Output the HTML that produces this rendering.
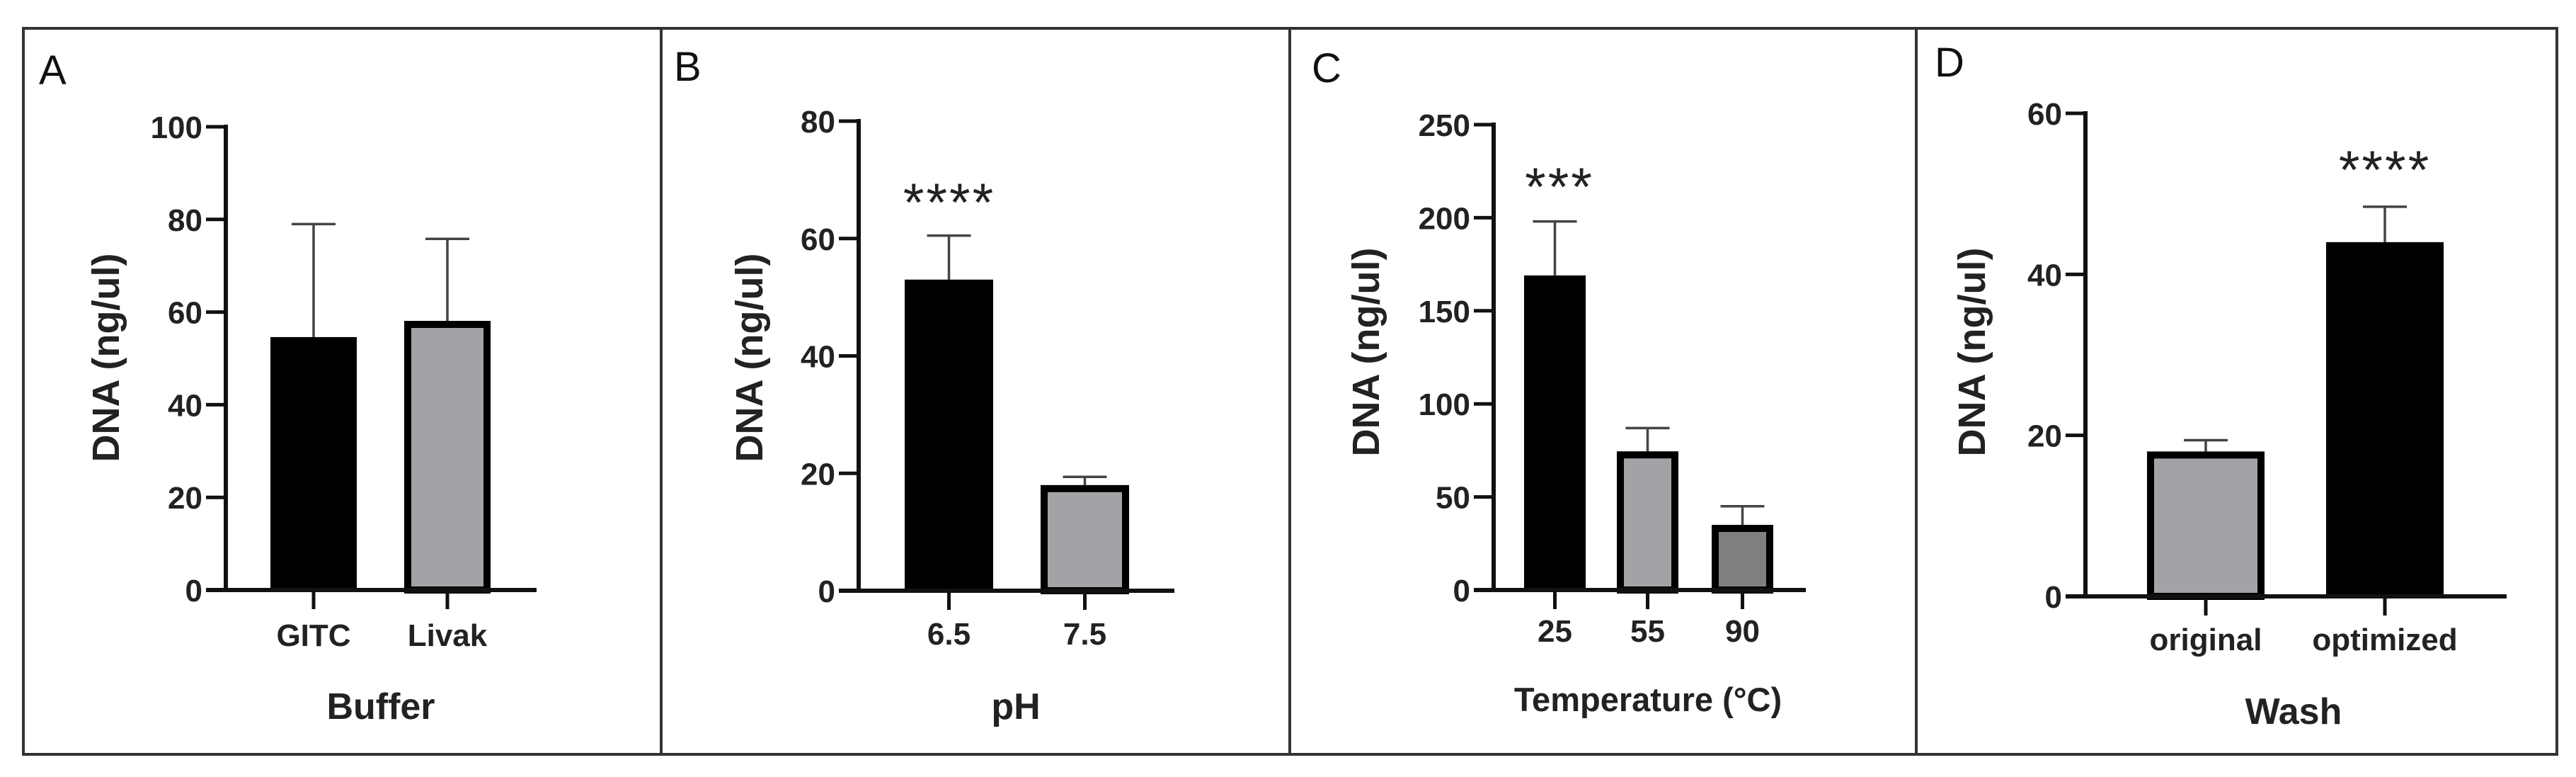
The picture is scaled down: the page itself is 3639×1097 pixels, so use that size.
<!DOCTYPE html>
<html><head><meta charset="utf-8"><style>
html,body{margin:0;padding:0;background:#fff;}
svg{display:block;font-family:"Liberation Sans",Arial,sans-serif;}
</style></head><body>
<svg id="fig" width="3639" height="1097" viewBox="0 0 3639 1097" xmlns="http://www.w3.org/2000/svg">
<rect x="0" y="0" width="3639" height="1097" fill="#fff"/>
<g fill="none" stroke="#333" stroke-width="4">
<rect x="33" y="40" width="3579" height="1025"/>
<line x1="934" y1="40" x2="934" y2="1065"/>
<line x1="1822" y1="40" x2="1822" y2="1065"/>
<line x1="2707" y1="40" x2="2707" y2="1065"/>
</g>
</svg>
<script>
// Panel A
const catsA = ["GITC","Livak"];
const valsA = [54.6, 58.1];
const errA = [79, 75.8];
const ticksA = [0,20,40,60,80,100];
// Panel B
const catsB = ["6.5","7.5"];
const valsB = [53, 18];
const errB = [60.5, 19.4];
const ticksB = [0,20,40,60,80];
// Panel C
const catsC = ["25","55","90"];
const valsC = [169, 74.5, 35];
const errC = [198, 87, 45];
const ticksC = [0,50,100,150,200,250];
// Panel D
const catsD = ["original","optimized"];
const valsD = [18, 44];
const errD = [19.4, 48.4];
const ticksD = [0,20,40,60];

const NS="http://www.w3.org/2000/svg";
const svg=document.getElementById('fig');
function mk(tag,attrs,parent){const e=document.createElementNS(NS,tag);for(const k in attrs)e.setAttribute(k,attrs[k]);(parent||svg).appendChild(e);return e;}

function panel(cfg){
  const g=mk('g',{});
  
  
  const ymax=cfg.ticks[cfg.ticks.length-1];
  const y=v=>cfg.y0-(v/ymax)*(cfg.y0-cfg.yTop);
  const L=mk('text',{x:cfg.letterX,y:cfg.letterY,'font-size':58,fill:'#111'},g);
  L.textContent=cfg.letter;
  
  
  cfg.cats.forEach((c,i)=>{
    const x0=cfg.barX[i], w=cfg.barW;
    const cx=x0+w/2;
    const el=mk('line',{x1:cx,x2:cx,y1:y(cfg.vals[i]),y2:y(cfg.err[i]),stroke:'#444','stroke-width':3.5},g);
    
    
    const cap=mk('line',{x1:cx-31,x2:cx+31,y1:y(cfg.err[i]),y2:y(cfg.err[i]),stroke:'#444','stroke-width':3.5},g);
    
    
    const fill=cfg.fills[i];
    let r;
    if(fill==='#000'){
      r=mk('rect',{x:x0,y:y(cfg.vals[i]),width:w,height:cfg.y0-y(cfg.vals[i]),fill:'#000'},g);
    } else {
      r=mk('rect',{x:x0+5,y:y(cfg.vals[i])+5,width:w-10,height:cfg.y0-y(cfg.vals[i])-5,fill:fill,stroke:'#000','stroke-width':10},g);
    }
    
    
    const t=mk('line',{x1:cx,x2:cx,y1:cfg.y0,y2:cfg.y0+27,stroke:'#111','stroke-width':5},g);
    
    
    const tl=mk('text',{x:cx,y:cfg.xLabY,'font-size':44,'font-weight':'bold','text-anchor':'middle',fill:'#222'},g);
    tl.textContent=c;
    
    
  });
  const ya=mk('line',{x1:cfg.axX,x2:cfg.axX,y1:cfg.yTop-3,y2:cfg.y0+3,stroke:'#111','stroke-width':6},g);
  
  
  const xa=mk('line',{x1:cfg.axX-28,x2:cfg.xEnd,y1:cfg.y0,y2:cfg.y0,stroke:'#111','stroke-width':6},g);
  
  
  cfg.ticks.forEach(v=>{
    const tk=mk('line',{x1:cfg.axX-28,x2:cfg.axX,y1:y(v),y2:y(v),stroke:'#111','stroke-width':5},g);
    
    
    const tl=mk('text',{x:cfg.axX-33,y:y(v)+16,'font-size':44,'font-weight':'bold','text-anchor':'end',fill:'#222'},g);
    tl.textContent=v;
    
    
  });
  const yt=mk('text',{x:0,y:0,'font-size':54,'font-weight':'bold','text-anchor':'middle',fill:'#222',transform:`translate(${cfg.yTitleX},${cfg.yTitleY}) rotate(-90)`},g);
  yt.textContent='DNA (ng/ul)';
  
  
  const xt=mk('text',{x:cfg.xTitleX,y:cfg.xTitleY,'font-size':cfg.xTitleSize,'font-weight':'bold','text-anchor':'middle',fill:'#222'},g);
  xt.textContent=cfg.xTitle;
  
  
  if(cfg.star){
    const s=mk('text',{x:cfg.starX,y:cfg.starY,'font-size':76,'text-anchor':'middle',fill:'#222','letter-spacing':3},g);
    s.textContent=cfg.star;
    
    
  }
}
const G='#a3a3a7';
panel({id:'a',letter:'A',letterX:55,letterY:119,cats:catsA,vals:valsA,err:errA,ticks:ticksA,
  axX:319,yTop:179,y0:833,xEnd:758,barX:[382,571],barW:122,fills:['#000',G],xLabY:912,
  yTitleX:168,yTitleY:505,xTitle:'Buffer',xTitleX:538,xTitleY:1015,xTitleSize:52});
panel({id:'b',letter:'B',letterX:952,letterY:114,cats:catsB,vals:valsB,err:errB,ticks:ticksB,
  axX:1213,yTop:171,y0:834,xEnd:1659,barX:[1278,1470],barW:125,fills:['#000',G],xLabY:910,
  yTitleX:1077,yTitleY:505,xTitle:'pH',xTitleX:1435,xTitleY:1015,xTitleSize:52,star:'****',starX:1341,starY:312});
panel({id:'c',letter:'C',letterX:1853,letterY:116,cats:catsC,vals:valsC,err:errC,ticks:ticksC,
  axX:2110,yTop:176,y0:833,xEnd:2551,barX:[2153,2284,2418],barW:87,fills:['#000',G,'#808080'],xLabY:906,
  yTitleX:1948,yTitleY:497,xTitle:'Temperature (°C)',xTitleX:2328,xTitleY:1004,xTitleSize:47,star:'***',starX:2203,starY:290});
panel({id:'d',letter:'D',letterX:2733,letterY:108,cats:catsD,vals:valsD,err:errD,ticks:ticksD,
  axX:2946,yTop:160,y0:842,xEnd:3541,barX:[3033,3286],barW:166,fills:[G,'#000'],xLabY:918,
  yTitleX:2804,yTitleY:497,xTitle:'Wash',xTitleX:3240,xTitleY:1022,xTitleSize:52,star:'****',starX:3369,starY:266});
</script>
</body></html>
